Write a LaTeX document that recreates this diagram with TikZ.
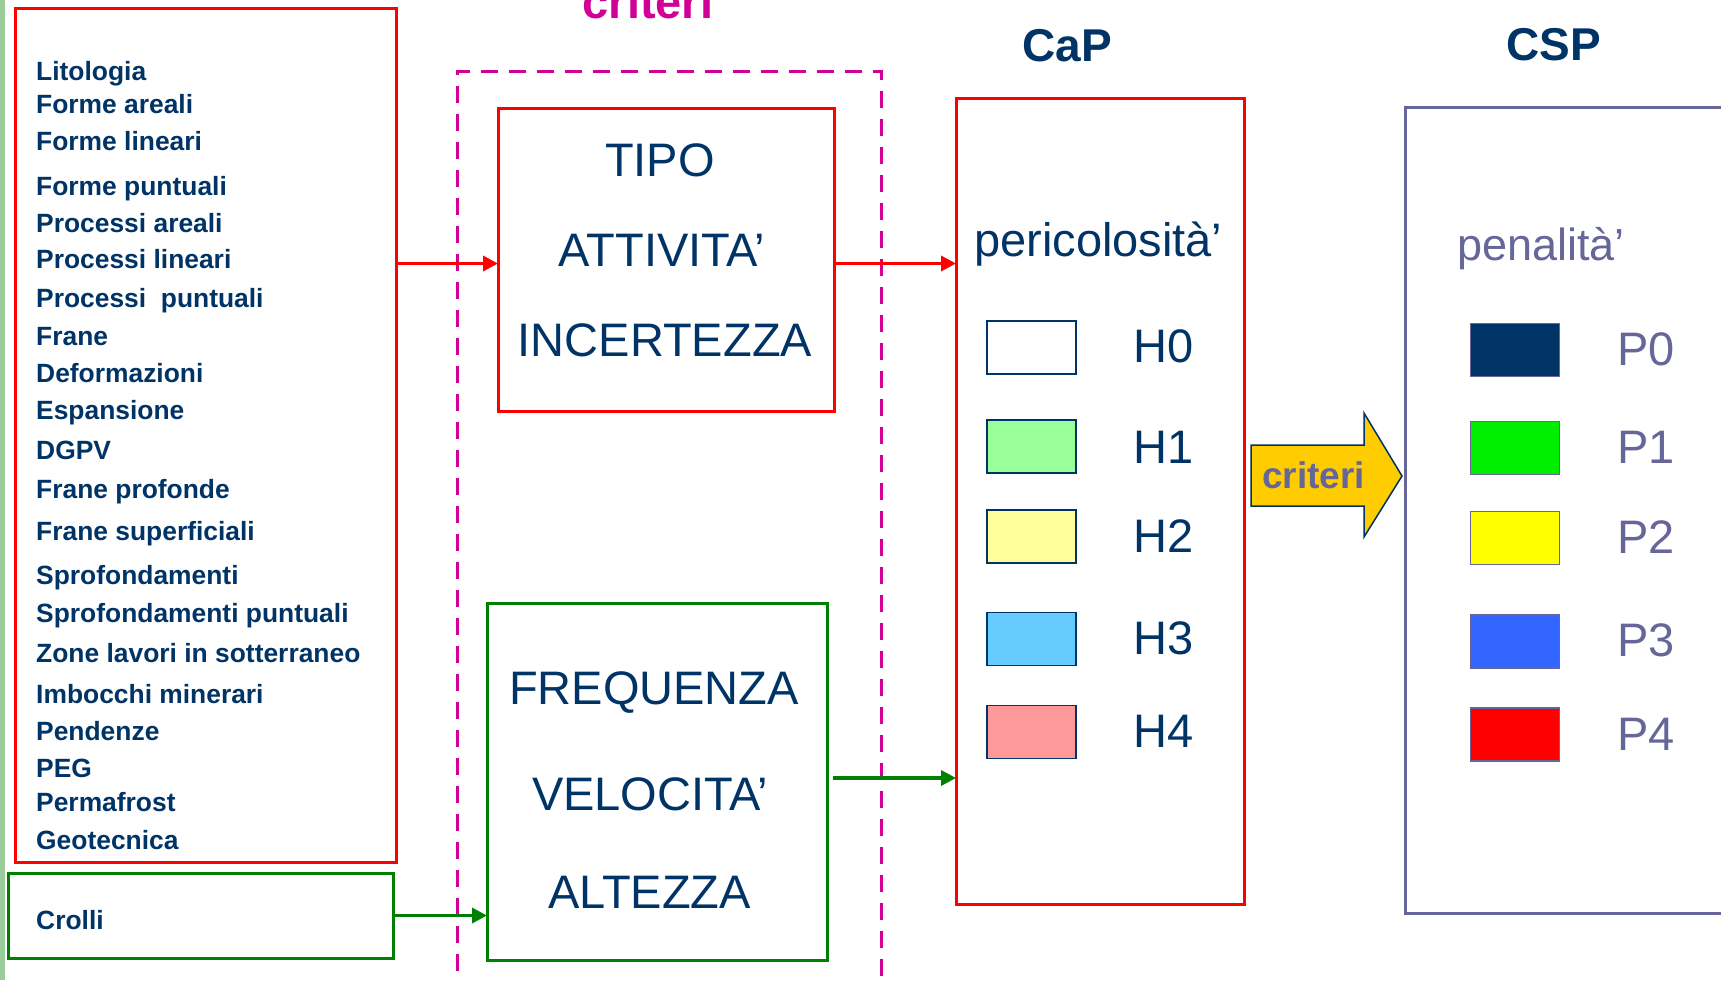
\documentclass[tikz,border=0pt]{standalone}
\usepackage{fontspec}
\setmainfont{Liberation Sans}
\usetikzlibrary{arrows.meta, positioning, calc}
\definecolor{capnavy}{HTML}{003366}
\definecolor{capred}{HTML}{FF0000}
\definecolor{capgreen}{HTML}{008000}
\definecolor{capmagenta}{HTML}{D10096}
\definecolor{cspgrey}{HTML}{666699}
\definecolor{stripgreen}{HTML}{99CC99}
\definecolor{crityellow}{HTML}{FFCC00}
\definecolor{hone}{HTML}{99FF99}
\definecolor{htwo}{HTML}{FFFF99}
\definecolor{hthree}{HTML}{66CCFF}
\definecolor{hfour}{HTML}{FF9999}
\definecolor{pone}{HTML}{00EE00}
\definecolor{ptwo}{HTML}{FFFF00}
\definecolor{pthree}{HTML}{3366FF}
\definecolor{pfour}{HTML}{FF0000}
\tikzset{
  framebox/.style={draw, line width=3pt, inner sep=0pt, outer sep=0pt},
  itemtext/.style={anchor=base west, inner sep=0pt, text=capnavy, font=\fontsize{26.4pt}{30pt}\selectfont\bfseries},
  bigtext/.style={anchor=base, inner sep=0pt, text=capnavy, font=\fontsize{47pt}{52pt}\selectfont},
  titletext/.style={anchor=base, inner sep=0pt, text=capnavy, font=\fontsize{46pt}{50pt}\selectfont\bfseries},
  hswatch/.style={draw=capnavy, line width=1.5pt, minimum width=89pt, minimum height=53pt, inner sep=0pt},
  pswatch/.style={draw=cspgrey, line width=1.5pt, minimum width=89pt, minimum height=53pt, inner sep=0pt},
  hlevel/.style={anchor=base west, inner sep=0pt, text=capnavy, font=\fontsize{47pt}{52pt}\selectfont},
  plevel/.style={anchor=base west, inner sep=0pt, text=cspgrey, font=\fontsize{47pt}{52pt}\selectfont},
  flow/.style={-{Triangle[length=15pt, width=15pt]}, line width=3.4pt},
}

\begin{document}
\begin{tikzpicture}[x=1pt, y=-1pt]
    \useasboundingbox (0,0) rectangle (1721,980);
    \clip (0,0) rectangle (1721,980);
    \fill[white] (0,0) rectangle (1721,980);
    \fill[stripgreen] (0,0) rectangle (5,980);

    % boxes
    \node[framebox, draw=capred, minimum width=381pt, minimum height=854pt] (list) at (205.5,435) {};
    \node[framebox, draw=capgreen, minimum width=385pt, minimum height=85pt] (crolli) at (200.5,915.5) {};
    \node[framebox, draw=capmagenta, dash pattern=on 17pt off 11pt, minimum width=424pt, minimum height=929pt] (critframe) at (669,535.5) {};
    \node[framebox, draw=capred, minimum width=336pt, minimum height=303pt] (tipo) at (666,259.5) {};
    \node[framebox, draw=capgreen, minimum width=340pt, minimum height=357pt] (freq) at (657,781.5) {};
    \node[framebox, draw=capred, minimum width=288pt, minimum height=806pt] (cap) at (1100,501) {};
    \node[framebox, draw=cspgrey, minimum width=355pt, minimum height=806pt] (csp) at (1582.5,510) {};

    % source list
    \node[itemtext] (lito) at (36,80) {Litologia};
    \node[itemtext] (farea) at (36,113) {Forme areali};
    \node[itemtext] (flin) at (36,150) {Forme lineari};
    \node[itemtext] (fpunt) at (36,195) {Forme puntuali};
    \node[itemtext] (parea) at (36,232) {Processi areali};
    \node[itemtext] (plin) at (36,268) {Processi lineari};
    \node[itemtext] (ppunt) at (36,307) {Processi\ \ puntuali};
    \node[itemtext] (frane) at (36,345) {Frane};
    \node[itemtext] (deform) at (36,382) {Deformazioni};
    \node[itemtext] (espans) at (36,419) {Espansione};
    \node[itemtext] (dgpv) at (36,459) {DGPV};
    \node[itemtext] (fprof) at (36,498) {Frane profonde};
    \node[itemtext] (fsup) at (36,540) {Frane superficiali};
    \node[itemtext] (sprof) at (36,584) {Sprofondamenti};
    \node[itemtext] (sppunt) at (36,622) {Sprofondamenti puntuali};
    \node[itemtext] (zone) at (36,662) {Zone lavori in sotterraneo};
    \node[itemtext] (imbo) at (36,703) {Imbocchi minerari};
    \node[itemtext] (pend) at (36,740) {Pendenze};
    \node[itemtext] (peg) at (36,777) {PEG};
    \node[itemtext] (perma) at (36,811) {Permafrost};
    \node[itemtext] (geot) at (36,849) {Geotecnica};
    \node[itemtext] (crollitxt) at (36,929) {Crolli};

    % criteria
    \node[anchor=base, inner sep=0pt, text=capmagenta, font=\fontsize{47pt}{52pt}\selectfont\bfseries] (crittitle) at (648,18) {criteri};
    \node[bigtext] (tipotxt) at (660,176) {TIPO};
    \node[bigtext] (attiv) at (662,266) {ATTIVITA’};
    \node[bigtext] (incert) at (665,356) {INCERTEZZA};
    \node[bigtext] (freqtxt) at (654,704) {FREQUENZA};
    \node[bigtext] (veloc) at (650,810) {VELOCITA’};
    \node[bigtext] (altez) at (649.5,908) {ALTEZZA};

    % CaP
    \node[titletext] (captitle) at (1067,61) {CaP};
    \node[anchor=base west, inner sep=0pt, text=capnavy, font=\fontsize{47pt}{52pt}\selectfont] (peric) at (974,256) {pericolosità’};
    \node[hswatch, fill=white] (h0) at (1031.5,347.5) {};
    \node[hswatch, fill=hone] (h1) at (1031.5,446.5) {};
    \node[hswatch, fill=htwo] (h2) at (1031.5,536.5) {};
    \node[hswatch, fill=hthree] (h3) at (1031.5,639) {};
    \node[hswatch, fill=hfour] (h4) at (1031.5,732) {};
    \node[hlevel] (h0txt) at (1133,362) {H0};
    \node[hlevel] (h1txt) at (1133,463) {H1};
    \node[hlevel] (h2txt) at (1133,552) {H2};
    \node[hlevel] (h3txt) at (1133,654) {H3};
    \node[hlevel] (h4txt) at (1133,747) {H4};

    % criteri arrow
    \draw[fill=crityellow, draw=capnavy, line width=1.5pt, line join=miter]
        (1251,445) -- (1364,445) -- (1364,413) -- (1402,476) -- (1364,537) -- (1364,506) -- (1251,506) -- cycle;
    \node[anchor=base west, inner sep=0pt, text=cspgrey, font=\fontsize{37pt}{40pt}\selectfont\bfseries] (critarrow) at (1262,488) {criteri};

    % CSP
    \node[titletext] (csptitle) at (1554,60) {CSP};
    \node[anchor=base west, inner sep=0pt, text=cspgrey, font=\fontsize{45pt}{50pt}\selectfont] (penal) at (1457,260) {penalità’};
    \node[pswatch, fill=capnavy] (p0) at (1515,350) {};
    \node[pswatch, fill=pone] (p1) at (1515,448) {};
    \node[pswatch, fill=ptwo] (p2) at (1515,538) {};
    \node[pswatch, fill=pthree] (p3) at (1515,641.5) {};
    \node[pswatch, fill=pfour] (p4) at (1515,734.5) {};
    \node[plevel] (p0txt) at (1617,365) {P0};
    \node[plevel] (p1txt) at (1617,463) {P1};
    \node[plevel] (p2txt) at (1617,553) {P2};
    \node[plevel] (p3txt) at (1617,656) {P3};
    \node[plevel] (p4txt) at (1617,750) {P4};

    % connectors
    \coordinate (redrow) at ($(tipo.west)+(0,4)$);
    \coordinate (greenrow) at ($(freq.east)+(0,-3.5)$);
    \draw[flow, capred] (list.east |- redrow) -- (tipo.west |- redrow);
    \draw[flow, capred] (tipo.east |- redrow) -- (cap.west |- redrow);
    \draw[flow, capgreen, shorten <=6pt] (greenrow) -- (cap.west |- greenrow);
    \draw[flow, capgreen] (crolli.east) -- (freq.west |- crolli.east);
\end{tikzpicture}
\end{document}
